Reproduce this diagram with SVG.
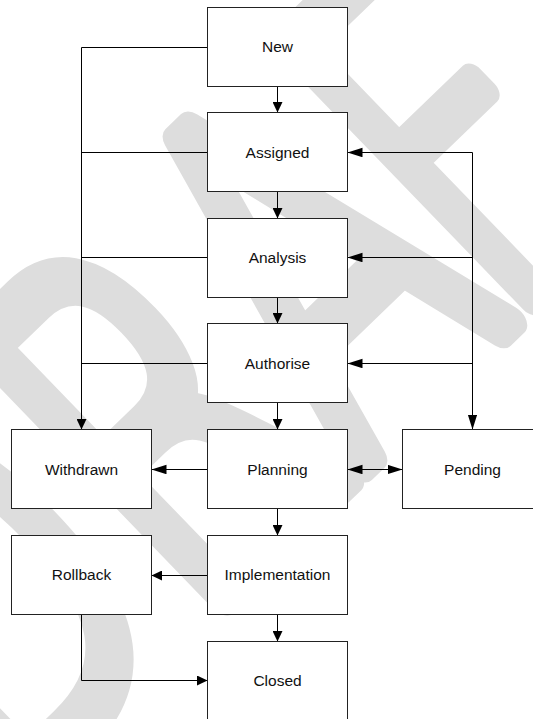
<svg xmlns="http://www.w3.org/2000/svg" width="533" height="719" viewBox="0 0 533 719">
<style>
.box{fill:#fff;stroke:#222;stroke-width:1}
.lbl{font-family:"Liberation Sans",Arial,sans-serif;font-size:15.5px;fill:#111;text-anchor:middle}
.c{fill:none;stroke:#000;stroke-width:1}
.wm{font-family:"DejaVu Sans",sans-serif;font-weight:200;font-size:495px;fill:#dddddd;stroke:#dddddd;stroke-width:30;stroke-linejoin:round;stroke-linecap:round}
</style>
<defs>
<marker id="s" markerUnits="userSpaceOnUse" markerWidth="11" markerHeight="10" refX="10.5" refY="5" orient="auto"><path d="M0,0 L10.5,5 L0,10 z" fill="#000"/></marker>
<marker id="l" markerUnits="userSpaceOnUse" markerWidth="16" markerHeight="10" refX="15" refY="4.75" orient="auto-start-reverse"><path d="M0,0 L15,4.75 L0,9.5 z" fill="#000"/></marker>
</defs>
<rect width="533" height="719" fill="#fff"/>
<g id="watermark">
<text class="wm" vector-effect="non-scaling-stroke" transform="translate(2.5,812.4) rotate(-44) scale(0.69,1)" x="0" y="0">DRA<tspan dx="-40">FT</tspan></text>
</g>
<g id="connectors">
<path class="c" d="M277.5,86.5 V112.5" marker-end="url(#s)"/>
<path class="c" d="M277.5,191.5 V218.5" marker-end="url(#s)"/>
<path class="c" d="M277.5,297.5 V323.5" marker-end="url(#s)"/>
<path class="c" d="M277.5,402.5 V429.5" marker-end="url(#s)"/>
<path class="c" d="M277.5,508.5 V535.5" marker-end="url(#s)"/>
<path class="c" d="M277.5,614.5 V641.5" marker-end="url(#s)"/>
<path class="c" d="M207.5,47.5 H81.5 V429.5" marker-end="url(#s)"/>
<path class="c" d="M207.5,152.5 H81.5"/>
<path class="c" d="M207.5,257.5 H81.5"/>
<path class="c" d="M207.5,363.5 H81.5"/>
<path class="c" d="M347.5,152.5 H472.5 V429.5" marker-start="url(#l)" marker-end="url(#l)"/>
<path class="c" d="M472.5,257.5 H347.5" marker-end="url(#l)"/>
<path class="c" d="M472.5,363.5 H347.5" marker-end="url(#l)"/>
<path class="c" d="M347.5,469.5 H402.5" marker-start="url(#l)" marker-end="url(#l)"/>
<path class="c" d="M207.5,469.5 H151.5" marker-end="url(#l)"/>
<path class="c" d="M207.5,575.5 H151.5" marker-end="url(#s)"/>
<path class="c" d="M81.5,614.5 V680.5 H207.5" marker-end="url(#s)"/>
</g>
<g id="new"><rect class="box" x="207.5" y="7.5" width="140" height="79"/><text class="lbl" x="277.5" y="51.5">New</text></g>
<g id="assigned"><rect class="box" x="207.5" y="112.5" width="140" height="79"/><text class="lbl" x="277.5" y="157.5">Assigned</text></g>
<g id="analysis"><rect class="box" x="207.5" y="218.5" width="140" height="79"/><text class="lbl" x="277.5" y="263">Analysis</text></g>
<g id="authorise"><rect class="box" x="207.5" y="323.5" width="140" height="79"/><text class="lbl" x="277.5" y="368.5">Authorise</text></g>
<g id="planning"><rect class="box" x="207.5" y="429.5" width="140" height="79"/><text class="lbl" x="277.5" y="474.5">Planning</text></g>
<g id="implementation"><rect class="box" x="207.5" y="535.5" width="140" height="79"/><text class="lbl" x="277.5" y="580">Implementation</text></g>
<g id="closed"><rect class="box" x="207.5" y="641.5" width="140" height="79"/><text class="lbl" x="277.5" y="685.5">Closed</text></g>
<g id="withdrawn"><rect class="box" x="11.5" y="429.5" width="140" height="79"/><text class="lbl" x="81.5" y="474.5">Withdrawn</text></g>
<g id="rollback"><rect class="box" x="11.5" y="535.5" width="140" height="79"/><text class="lbl" x="81.5" y="580">Rollback</text></g>
<g id="pending"><rect class="box" x="402.5" y="429.5" width="140" height="79"/><text class="lbl" x="472.5" y="474.5">Pending</text></g>
</svg>
